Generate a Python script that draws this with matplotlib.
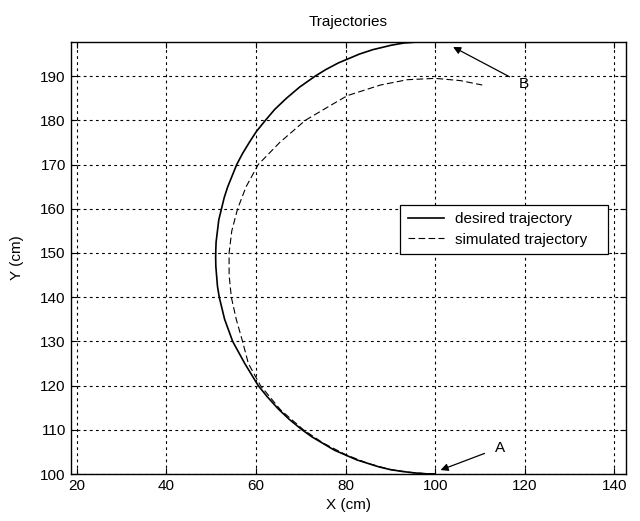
import matplotlib.pyplot as plt

plt.rcParams['font.family'] = ['Liberation Sans', 'DejaVu Sans']

# Desired trajectory (cm)
x_des = [100, 97.5, 95, 92.5, 90, 87.5, 85, 82.5, 80, 77.5, 75, 72.5, 70.3, 67.5, 65,
         62.5, 60.5, 57.5, 54.8, 53.0, 52.4, 51.8, 51.4, 51.2, 51.04, 51.0, 51.04, 51.1,
         51.4, 51.7, 52.3, 52.9, 53.7, 54.7, 55.7, 57.0, 58.5, 60.1, 62.1, 64.2, 66.8,
         69.7, 73.2, 75.6, 78.4, 83.1, 86.1, 90.2, 93.0, 100]
y_des = [100, 100.06, 100.3, 100.6, 101.0, 101.6, 102.4, 103.2, 104.3, 105.4, 106.9,
         108.4, 110, 112.3, 114.7, 117.5, 120, 125, 130, 135, 137.5, 140, 142.5, 145,
         147, 149, 151, 152.5, 155, 157.5, 160, 162.5, 165, 167.5, 170, 172.5, 175,
         177.5, 180, 182.5, 185, 187.5, 190, 191.5, 193, 195, 196, 197, 197.5, 198]

# Simulated trajectory (cm)
x_sim = [100, 95, 90, 85, 80, 75, 70.6, 65.5, 61.0, 58.3, 57.0, 55.6, 54.5, 54.0,
         54.0, 54.6, 55.9, 57.8, 60.5, 65.3, 71.0, 76.0, 80.4, 87.8, 93.8, 100, 105.6, 110.5]
y_sim = [100, 100.3, 101.0, 102.4, 104.4, 107, 110, 114.5, 120, 125, 130, 135, 140, 145,
         150, 155, 160, 165, 170, 175, 180, 183, 185.6, 188, 189.2, 189.5, 189, 188]

fig = plt.figure(figsize=(6.4, 5.21), dpi=100)
ax = fig.add_axes([0.1105, 0.0893, 0.8677, 0.8307])

ax.plot(x_des, y_des, color='black', lw=1.2, label='desired trajectory')
ax.plot(x_sim, y_sim, color='black', lw=0.8, dashes=(6, 3), label='simulated trajectory')

ax.set_xlim(18.65, 142.6)
ax.set_ylim(99.9, 197.8)
ax.set_xticks([20, 40, 60, 80, 100, 120, 140])
ax.set_yticks([100, 110, 120, 130, 140, 150, 160, 170, 180, 190])
ax.grid(True, color='black', linestyle=(0, (2.5, 3)), linewidth=0.8)
ax.tick_params(direction='in', top=True, right=True, labelsize=11, length=4)
for s in ax.spines.values():
    s.set_linewidth(1.0)

ax.set_title('Trajectories', fontsize=11, pad=11)
ax.set_xlabel('X (cm)', fontsize=11, labelpad=3)
ax.set_ylabel('Y (cm)', fontsize=11, labelpad=12)

# Start / end markers
ax.annotate('A', xy=(101.2, 100.9), xytext=(114.5, 106), fontsize=11, ha='center', va='center',
            arrowprops=dict(arrowstyle='-|>', color='black', lw=0.9, shrinkA=6, shrinkB=0))
ax.annotate('B', xy=(104, 196.6), xytext=(119.7, 188.2), fontsize=11, ha='center', va='center',
            arrowprops=dict(arrowstyle='-|>', color='black', lw=0.9, shrinkA=5, shrinkB=0))

leg = ax.legend(loc='upper left', bbox_to_anchor=(0.593, 0.505, 0.375, 0.118), mode='expand',
                fontsize=11, fancybox=False, framealpha=1, edgecolor='black',
                handlelength=2.4, handletextpad=0.7, borderpad=0.5, labelspacing=0.4,
                borderaxespad=0)
leg.get_frame().set_linewidth(0.9)

fig.savefig('out.png', dpi=100)
